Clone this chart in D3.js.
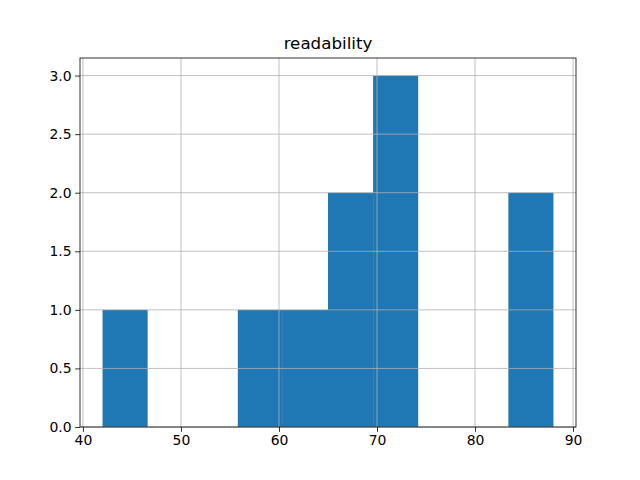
<!DOCTYPE html>
<html><head><meta charset="utf-8">
<script src="https://cdn.jsdelivr.net/npm/d3@7"></script>
<style>body{margin:0;background:#fff}</style>
</head><body>
<script>
const title = "readability";
const binEdges = [42, 46.6, 51.2, 55.8, 60.4, 65, 69.6, 74.2, 78.8, 83.4, 88];
const counts = [1, 0, 0, 1, 1, 2, 3, 0, 0, 2];
const xTicks = [40, 50, 60, 70, 80, 90];
const yTicks = [0, 0.5, 1, 1.5, 2, 2.5, 3];

const W = 640, H = 480;
const m = {left: 80, right: 576, top: 58, bottom: 427};
const svg = d3.select("body").append("svg").attr("width", W).attr("height", H)
  .style("font-family", "DejaVu Sans, sans-serif");

const x = d3.scaleLinear().domain([39.7, 90.3]).range([m.left, m.right]);
const y = d3.scaleLinear().domain([0, 3.15]).range([m.bottom, m.top]);

const bins = counts.map((c, i) => ({x0: binEdges[i], x1: binEdges[i+1], c}));
svg.append("g").selectAll("rect").data(bins.filter(d => d.c > 0)).join("rect")
  .attr("x", d => x(d.x0)).attr("width", d => x(d.x1) - x(d.x0))
  .attr("y", d => y(d.c)).attr("height", d => y(0) - y(d.c))
  .attr("fill", "#1f77b4");

// grid
const g = svg.append("g").attr("stroke", "#b0b0b0").attr("stroke-width", 0.8);
xTicks.forEach(t => g.append("line").attr("x1", x(t)).attr("x2", x(t)).attr("y1", m.top).attr("y2", m.bottom));
yTicks.forEach(t => g.append("line").attr("y1", y(t)).attr("y2", y(t)).attr("x1", m.left).attr("x2", m.right));

// axes
const xa = svg.append("g").attr("transform", `translate(0,${m.bottom})`)
  .call(d3.axisBottom(x).tickValues(xTicks).tickSize(4.9).tickPadding(3.5).tickFormat(d3.format("d")));
const ya = svg.append("g").attr("transform", `translate(${m.left},0)`)
  .call(d3.axisLeft(y).tickValues(yTicks).tickSize(4.9).tickPadding(3.5).tickFormat(d3.format(".1f")));
[xa, ya].forEach(a => {
  a.select(".domain").remove();
  a.selectAll("text").attr("font-size", 13.9).attr("font-family", "DejaVu Sans, sans-serif").attr("fill", "#000");
  a.selectAll("line").attr("stroke", "#000").attr("stroke-width", 0.8);
});

// spines
svg.append("rect").attr("x", m.left).attr("y", m.top).attr("width", m.right - m.left).attr("height", m.bottom - m.top)
  .attr("fill", "none").attr("stroke", "#000").attr("stroke-width", 0.8);

svg.append("text").attr("x", (m.left + m.right) / 2).attr("y", m.top - 9)
  .attr("text-anchor", "middle").attr("font-size", 16.7).text(title);
</script>
</body></html>
